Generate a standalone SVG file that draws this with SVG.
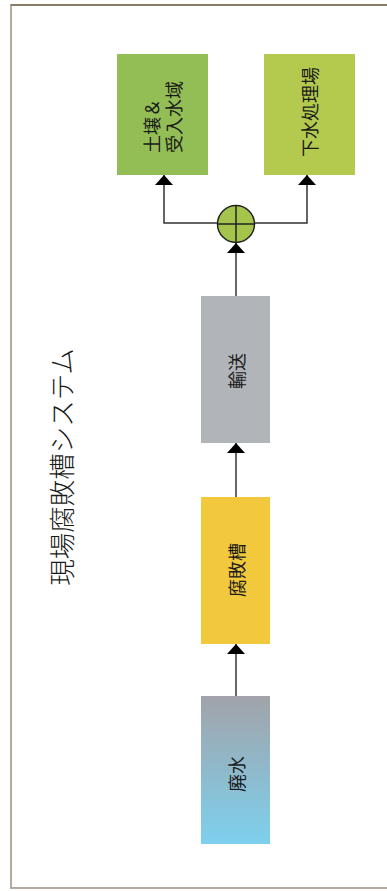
<svg xmlns="http://www.w3.org/2000/svg" width="387" height="891" viewBox="0 0 387 891">
<style>
.lbl{font-family:"Noto Sans CJK JP","Liberation Sans",sans-serif;font-size:18px;fill:#1a1a1a;text-anchor:middle;dominant-baseline:central}
.title{font-family:"Noto Sans CJK JP","Liberation Sans",sans-serif;font-size:26.5px;font-weight:300;fill:#1a1a1a;text-anchor:middle;dominant-baseline:central}
.conn{stroke:#333;stroke-width:1.5;fill:none}
</style>
<defs>
<linearGradient id="gw" x1="0" y1="0" x2="0" y2="1">
<stop offset="0" stop-color="#a1a3a9"/>
<stop offset="1" stop-color="#7dd0ee"/>
</linearGradient>
<marker id="ah" viewBox="0 0 10 18" refX="10" refY="9" markerWidth="10" markerHeight="18" markerUnits="userSpaceOnUse" orient="auto">
<path d="M0,0 L10,9 L0,18 Z" fill="#000"/>
</marker>
</defs>
<rect x="11" y="5" width="380" height="883" fill="#fff" stroke="#b3ab9c" stroke-width="2"/>
<line x1="11" y1="5" x2="387" y2="5" stroke="#7b6b57" stroke-width="1.5"/>
<g id="title"><text class="title" transform="translate(60,467) rotate(-90)">現場腐敗槽システム</text></g>
<g id="connectors">
<line class="conn" x1="236" y1="696" x2="236" y2="644" marker-end="url(#ah)"/>
<line class="conn" x1="236" y1="497" x2="236" y2="443" marker-end="url(#ah)"/>
<line class="conn" x1="236" y1="296" x2="236" y2="243" marker-end="url(#ah)"/>
<polyline class="conn" points="217,223 164,223 164,175" marker-end="url(#ah)"/>
<polyline class="conn" points="255,223 307,223 307,175" marker-end="url(#ah)"/>
</g>
<g id="soil">
<rect x="117" y="54" width="91" height="121" fill="#93bd55"/>
<text class="lbl" transform="translate(151,153) rotate(-90)" style="text-anchor:start">土壌＆</text>
<text class="lbl" transform="translate(173,153) rotate(-90)" style="text-anchor:start">受入水域</text>
</g>
<g id="sewage">
<rect x="264" y="54" width="91" height="121" fill="#b3ca4f"/>
<text class="lbl" transform="translate(309,112) rotate(-90)">下水処理場</text>
</g>
<g id="junction">
<circle cx="236" cy="224" r="18.5" fill="#a4c44b" stroke="#222" stroke-width="1.5"/>
<line x1="236" y1="205.5" x2="236" y2="242.5" stroke="#222" stroke-width="1.5"/>
<line x1="217.5" y1="224" x2="254.5" y2="224" stroke="#222" stroke-width="1.5"/>
</g>
<g id="transport">
<rect x="201" y="296" width="69" height="147" fill="#b1b4b9"/>
<text class="lbl" transform="translate(236,371) rotate(-90)">輸送</text>
</g>
<g id="septic">
<rect x="201" y="497" width="69" height="147" fill="#f2c83c"/>
<text class="lbl" transform="translate(236,570) rotate(-90)">腐敗槽</text>
</g>
<g id="wastewater">
<rect x="201" y="696" width="69" height="148" fill="url(#gw)"/>
<text class="lbl" transform="translate(236,774) rotate(-90)">廃水</text>
</g>
</svg>
